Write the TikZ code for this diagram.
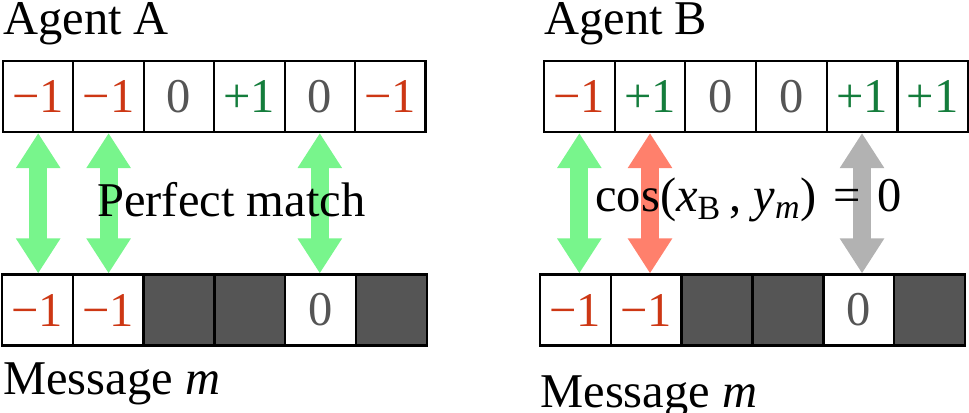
\documentclass[tikz,border=0pt]{standalone}
\usepackage{fontspec}
\setmainfont{LiberationSerif}[Extension=.ttf, UprightFont=*-Regular,
  ItalicFont=*-Italic, BoldFont=*-Bold, BoldItalicFont=*-BoldItalic]
\usepackage{tikz}
\usetikzlibrary{arrows.meta}
\definecolor{numred}{RGB}{205,55,20}
\definecolor{numgreen}{RGB}{20,125,60}
\definecolor{numgray}{RGB}{85,85,85}
\definecolor{maskdark}{RGB}{85,85,85}
\definecolor{arrgreen}{RGB}{120,245,140}
\definecolor{arrred}{RGB}{255,128,108}
\definecolor{arrgray}{RGB}{178,178,178}
\tikzset{
  cell/.style={rectangle, draw=black, fill=white, line width=1.2pt,
    minimum width=1.41cm, minimum height=1.42cm, inner sep=0pt},
  maskcell/.style={cell, fill=maskdark},
  nametext/.style={inner sep=0pt, anchor=base west},
  matcharrow/.style={{Triangle[width=0.84cm,length=0.7cm]}-{Triangle[width=0.84cm,length=0.7cm]},
    line width=0.36cm}
}
\begin{document}
\begin{tikzpicture}[x=0.02cm, y=0.02cm, font=\rmfamily\fontsize{27.6}{33}\selectfont]
  \useasboundingbox (0,0) rectangle (969,412);
  % Agent A
  \foreach \v/\c [count=\i] in {−1/numred, −1/numred, 0/numgray, +1/numgreen, 0/numgray, −1/numred}
    \node[cell, text=\c] (a\i) at ({3+70.4*(\i-0.5)}, 315.5) {\v};
  \foreach \v/\c/\s [count=\i] in {−1/numred/cell, −1/numred/cell, {}/black/maskcell,
      {}/black/maskcell, 0/numgray/cell, {}/black/maskcell}
    \node[\s, text=\c] (ma\i) at ({2+70.8*(\i-0.5)}, 102) {\v};
  \foreach \i in {1,2,5}
    \draw[matcharrow, arrgreen] (a\i.south) -- (a\i.south |- ma\i.north);
  \node[nametext] (nameA) at (3,377) {Agent A};
  \node[nametext] (msgA) at (3,17) {Message \textit{m}};
  \node[nametext] (match) at (97,195) {Perfect match};
  % Agent B
  \foreach \v/\c [count=\i] in {−1/numred, +1/numgreen, 0/numgray, 0/numgray, +1/numgreen, +1/numgreen}
    \node[cell, text=\c] (b\i) at ({544+70.67*(\i-0.5)}, 315.5) {\v};
  \foreach \v/\c/\s [count=\i] in {−1/numred/cell, −1/numred/cell, {}/black/maskcell,
      {}/black/maskcell, 0/numgray/cell, {}/black/maskcell}
    \node[\s, text=\c] (mb\i) at ({540+70.83*(\i-0.5)}, 102) {\v};
  \draw[matcharrow, arrgreen] (b1.south) -- (b1.south |- mb1.north);
  \draw[matcharrow, arrred] (b2.south) -- (b2.south |- mb2.north);
  \draw[matcharrow, arrgray] (b5.south) -- (b5.south |- mb5.north);
  \node[nametext] (nameB) at (544,377) {Agent B};
  \node[nametext] (msgB) at (540,5) {Message \textit{m}};
  \node[nametext] (cosine) at (595,200)
    {cos(\textit{x}\textsubscript{B}\,, \textit{y}\textsubscript{\textit{m}})\hspace{0.35em}=\hspace{0.35em}0};
\end{tikzpicture}
\end{document}
